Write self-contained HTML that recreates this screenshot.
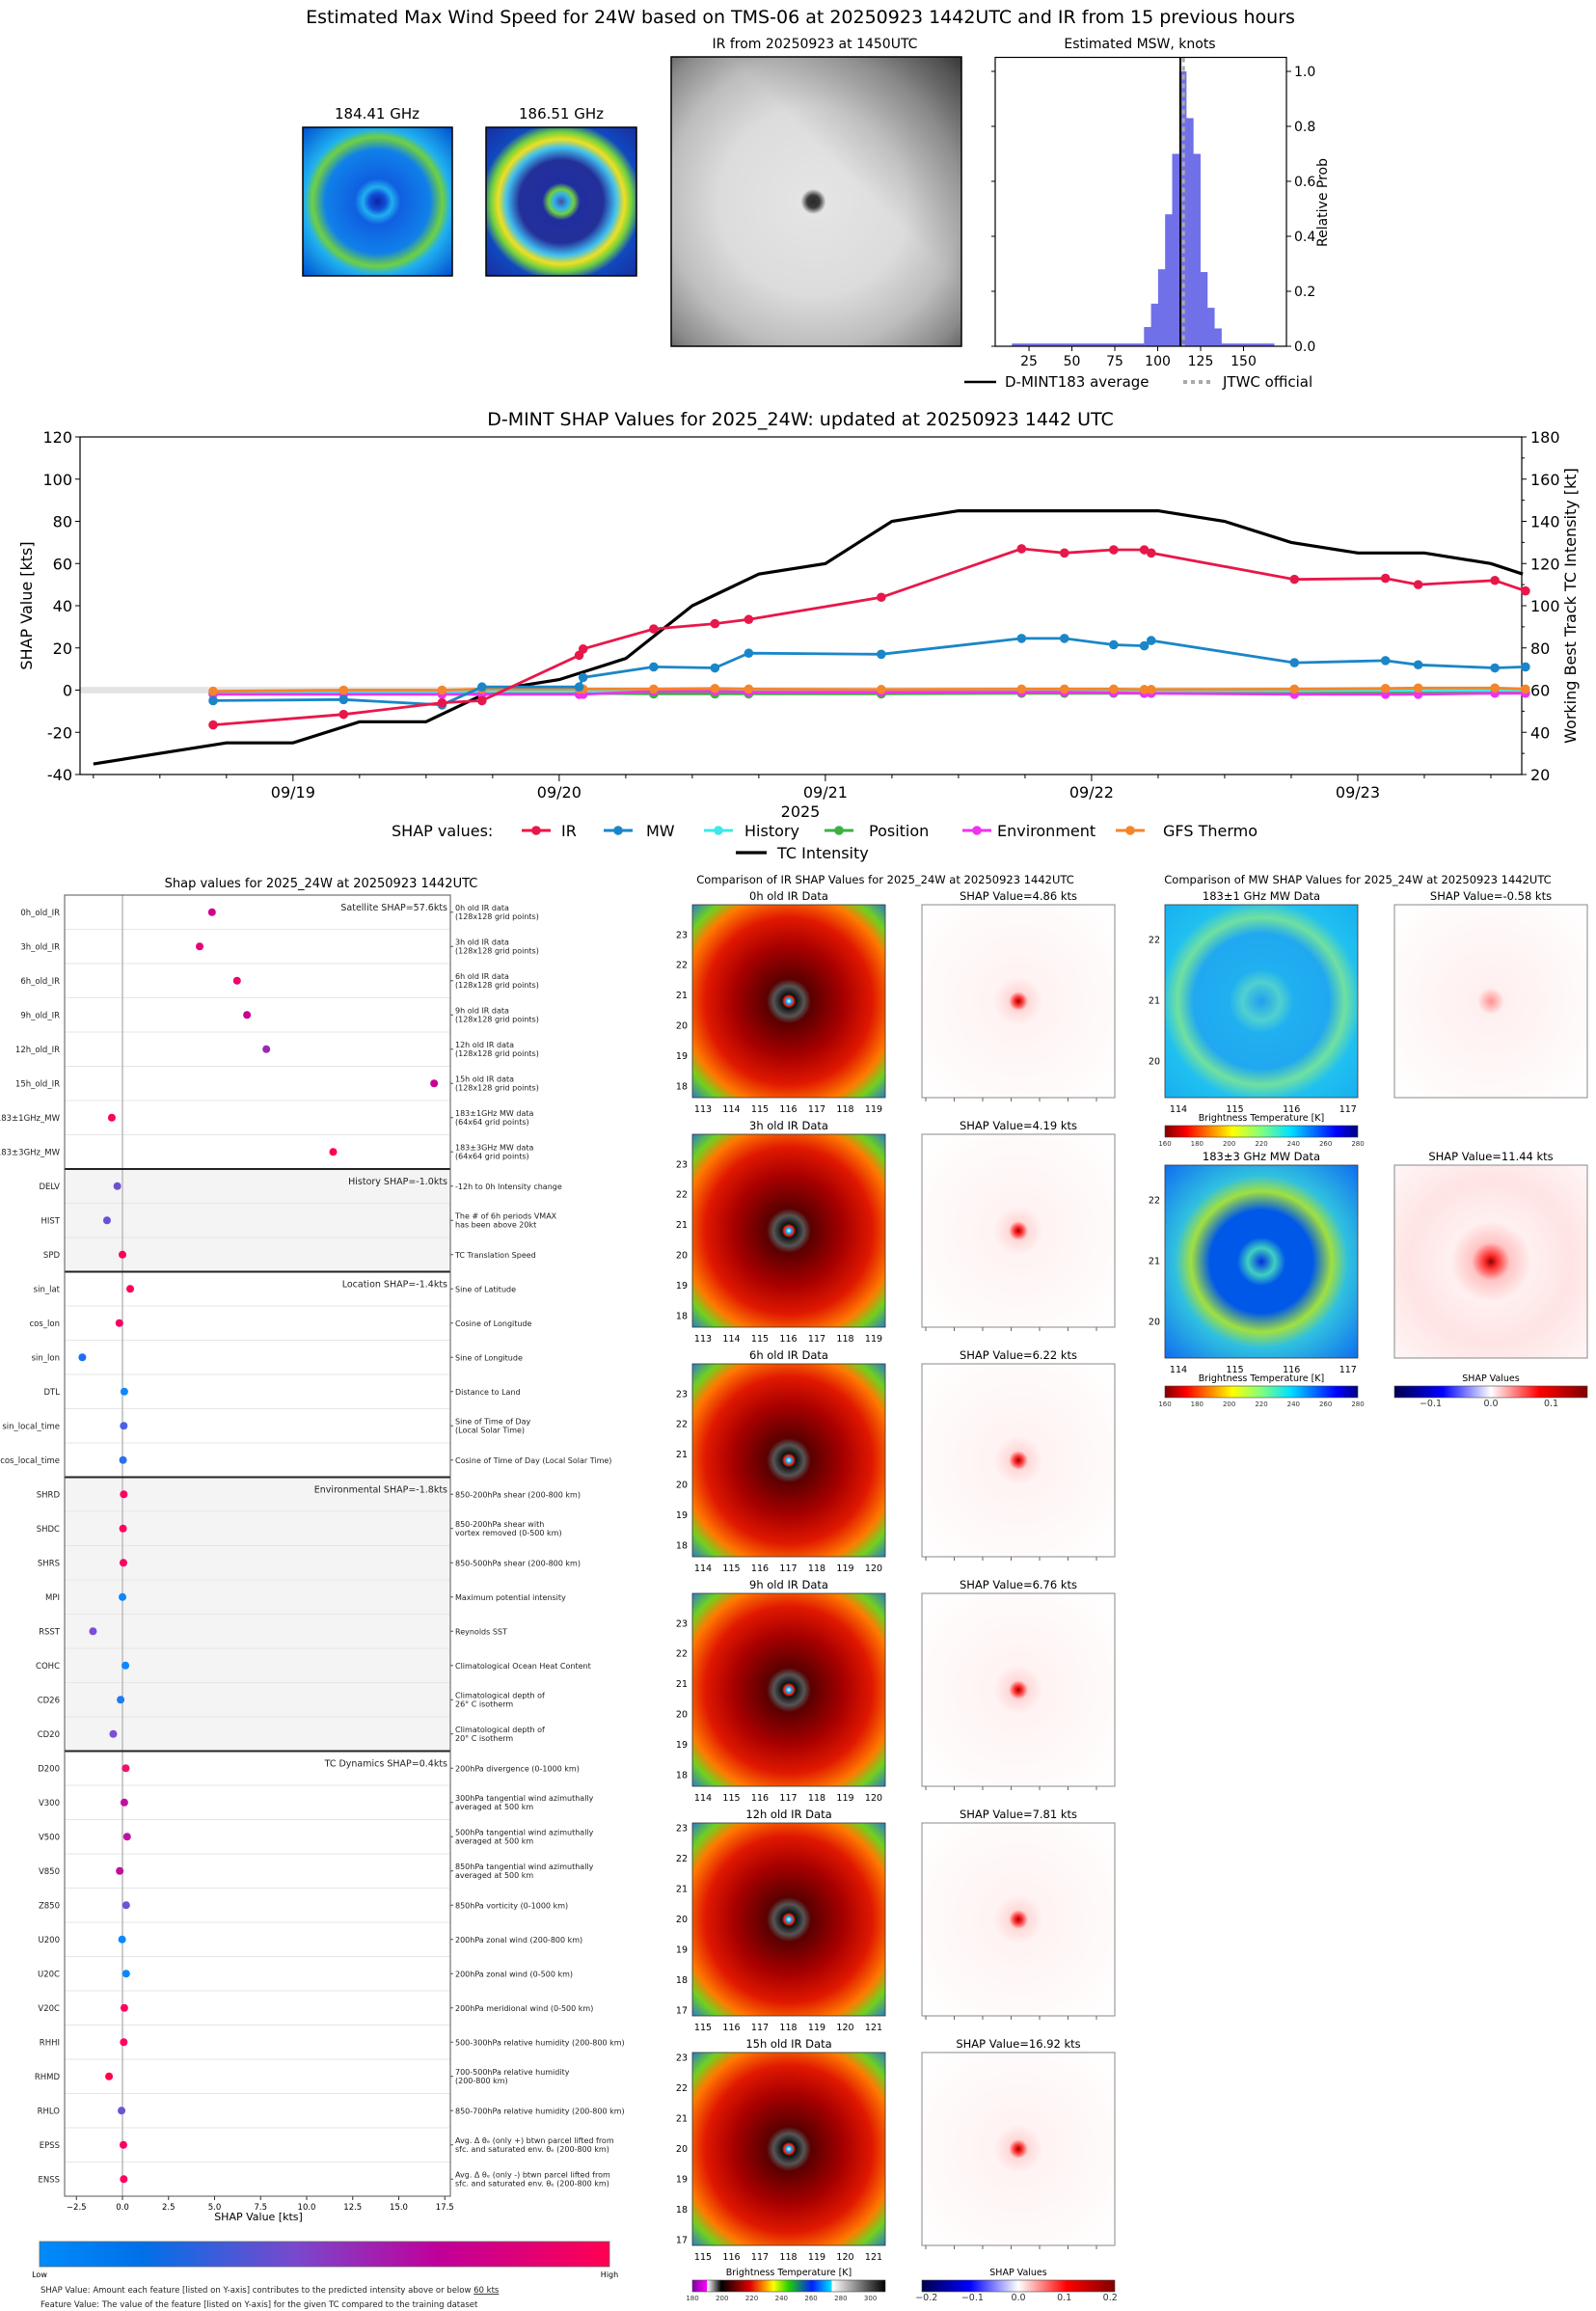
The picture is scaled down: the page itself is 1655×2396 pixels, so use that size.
<!DOCTYPE html>
<html><head><meta charset="utf-8"><title>D-MINT 24W</title>
<style>
html,body{margin:0;padding:0;background:#fff;}
svg{display:block;font-family:"DejaVu Sans","Liberation Sans",sans-serif;}
</style></head>
<body>
<svg id="root" xmlns="http://www.w3.org/2000/svg" width="1655" height="2396" viewBox="0 0 1655 2396">
<defs>
<radialGradient id="gIRtop" cx="0.49" cy="0.5" r="0.72">
<stop offset="0" stop-color="#2a2a2a"/><stop offset="0.03" stop-color="#3a3a3a"/><stop offset="0.06" stop-color="#e4e4e4"/><stop offset="0.45" stop-color="#dcdcdc"/><stop offset="0.7" stop-color="#bdbdbd"/><stop offset="0.9" stop-color="#8a8a8a"/><stop offset="1" stop-color="#606060"/></radialGradient>
<linearGradient id="gIRshade" x1="0" y1="1" x2="1" y2="0">
<stop offset="0" stop-color="#000" stop-opacity="0"/><stop offset="0.6" stop-color="#000" stop-opacity="0"/><stop offset="1" stop-color="#000" stop-opacity="0.45"/></linearGradient>
<radialGradient id="gMW184" cx="0.5" cy="0.5" r="0.7">
<stop offset="0" stop-color="#1020a0"/><stop offset="0.08" stop-color="#1050d8"/><stop offset="0.14" stop-color="#20b0f0"/><stop offset="0.22" stop-color="#1060e0"/><stop offset="0.5" stop-color="#1080ea"/><stop offset="0.62" stop-color="#70d040"/><stop offset="0.7" stop-color="#20b0f0"/><stop offset="1" stop-color="#0050d0"/></radialGradient>
<radialGradient id="gMW186" cx="0.5" cy="0.5" r="0.7">
<stop offset="0" stop-color="#4050a0"/><stop offset="0.07" stop-color="#30b0f0"/><stop offset="0.12" stop-color="#70d040"/><stop offset="0.18" stop-color="#202e9e"/><stop offset="0.4" stop-color="#24309a"/><stop offset="0.52" stop-color="#40c0f0"/><stop offset="0.6" stop-color="#f0e020"/><stop offset="0.67" stop-color="#70d040"/><stop offset="0.76" stop-color="#1048c0"/><stop offset="1" stop-color="#1830a0"/></radialGradient>
<radialGradient id="gIR" cx="0.5" cy="0.5" r="0.72">
<stop offset="0" stop-color="#ffffff"/><stop offset="0.02" stop-color="#00a8ff"/><stop offset="0.035" stop-color="#ff2000"/><stop offset="0.05" stop-color="#101010"/><stop offset="0.11" stop-color="#555555"/><stop offset="0.16" stop-color="#5a0000"/><stop offset="0.4" stop-color="#a80000"/><stop offset="0.6" stop-color="#e01800"/><stop offset="0.76" stop-color="#ff7a00"/><stop offset="0.86" stop-color="#70d020"/><stop offset="1" stop-color="#2070e0"/></radialGradient>
<radialGradient id="gSH" cx="0.5" cy="0.5" r="0.7">
<stop offset="0" stop-color="#a00000"/><stop offset="0.03" stop-color="#ff3030"/><stop offset="0.07" stop-color="#ffd8d8"/><stop offset="0.18" stop-color="#fff3f3"/><stop offset="1" stop-color="#ffffff"/></radialGradient>
<radialGradient id="gSH3" cx="0.5" cy="0.5" r="0.7">
<stop offset="0" stop-color="#900000"/><stop offset="0.05" stop-color="#ff3030"/><stop offset="0.14" stop-color="#ffc4c4"/><stop offset="0.3" stop-color="#fff0f0"/><stop offset="0.6" stop-color="#ffe4e4"/><stop offset="1" stop-color="#fff6f6"/></radialGradient>
<radialGradient id="gSH1" cx="0.5" cy="0.5" r="0.7">
<stop offset="0" stop-color="#ff9090"/><stop offset="0.1" stop-color="#fff0f0"/><stop offset="1" stop-color="#ffffff"/></radialGradient>
<radialGradient id="gMW1" cx="0.5" cy="0.5" r="0.7">
<stop offset="0" stop-color="#20a0f0"/><stop offset="0.14" stop-color="#50d0d0"/><stop offset="0.24" stop-color="#20b0f0"/><stop offset="0.5" stop-color="#20a8f0"/><stop offset="0.62" stop-color="#70e0a0"/><stop offset="0.74" stop-color="#20c0f0"/><stop offset="1" stop-color="#18b0f0"/></radialGradient>
<radialGradient id="gMW3" cx="0.5" cy="0.5" r="0.7">
<stop offset="0" stop-color="#0030e0"/><stop offset="0.1" stop-color="#40d0c0"/><stop offset="0.18" stop-color="#0058e8"/><stop offset="0.38" stop-color="#0058e8"/><stop offset="0.52" stop-color="#a0e040"/><stop offset="0.64" stop-color="#30c0e0"/><stop offset="1" stop-color="#1070f0"/></radialGradient>
<linearGradient id="gJet" x1="0" x2="1" y1="0" y2="0">
<stop offset="0" stop-color="#800000"/><stop offset="0.11" stop-color="#ff0000"/><stop offset="0.35" stop-color="#ffff00"/><stop offset="0.5" stop-color="#80ff80"/><stop offset="0.65" stop-color="#00e0ff"/><stop offset="0.89" stop-color="#0000ff"/><stop offset="1" stop-color="#000080"/></linearGradient>
<linearGradient id="gIRcb" x1="0" x2="1" y1="0" y2="0">
<stop offset="0" stop-color="#8000a0"/><stop offset="0.075" stop-color="#ff00ff"/><stop offset="0.077" stop-color="#ffffff"/><stop offset="0.15" stop-color="#000000"/><stop offset="0.3" stop-color="#e00000"/><stop offset="0.38" stop-color="#ffa000"/><stop offset="0.42" stop-color="#ffff00"/><stop offset="0.5" stop-color="#20d000"/><stop offset="0.62" stop-color="#0020ff"/><stop offset="0.72" stop-color="#00e0ff"/><stop offset="0.725" stop-color="#ffffff"/><stop offset="1" stop-color="#000000"/></linearGradient>
<linearGradient id="gSeis" x1="0" x2="1" y1="0" y2="0">
<stop offset="0" stop-color="#00004c"/><stop offset="0.25" stop-color="#0000ff"/><stop offset="0.5" stop-color="#ffffff"/><stop offset="0.75" stop-color="#ff0000"/><stop offset="1" stop-color="#800000"/></linearGradient>
<linearGradient id="gFeat" x1="0" x2="1" y1="0" y2="0">
<stop offset="0" stop-color="#008bfb"/><stop offset="0.18" stop-color="#0070e8"/><stop offset="0.45" stop-color="#7a48cc"/><stop offset="0.7" stop-color="#c0009a"/><stop offset="1" stop-color="#ff0052"/></linearGradient>
</defs>

<text x="830" y="24" font-size="19" text-anchor="middle">Estimated Max Wind Speed for 24W based on TMS-06 at 20250923 1442UTC and IR from 15 previous hours</text>
<text x="391" y="123" font-size="15" text-anchor="middle">184.41 GHz</text>
<rect x="314" y="132" width="155" height="154" fill="url(#gMW184)" stroke="#000" stroke-width="1.5"/>
<text x="582" y="123" font-size="15" text-anchor="middle">186.51 GHz</text>
<rect x="504" y="132" width="156" height="154" fill="url(#gMW186)" stroke="#000" stroke-width="1.5"/>
<text x="845" y="50" font-size="14" text-anchor="middle">IR from 20250923 at 1450UTC</text>
<rect x="696" y="59" width="301" height="300" fill="url(#gIRtop)" stroke="#000" stroke-width="1.5"/>
<rect x="696" y="59" width="301" height="300" fill="url(#gIRshade)"/>
<text x="1182" y="50" font-size="14" text-anchor="middle">Estimated MSW, knots</text>
<g id="hist"></g>
<text transform="translate(1376,210) rotate(-90)" font-size="14" text-anchor="middle">Relative Prob</text>
<line x1="1000" y1="396" x2="1033" y2="396" stroke="#000" stroke-width="2.5"/>
<text x="1042" y="401" font-size="15">D-MINT183 average</text>
<line x1="1227" y1="396" x2="1256" y2="396" stroke="#aaa" stroke-width="4" stroke-dasharray="4,4"/>
<text x="1268" y="401" font-size="15">JTWC official</text>

<text x="830" y="441" font-size="19" text-anchor="middle">D-MINT SHAP Values for 2025_24W: updated at 20250923 1442 UTC</text>
<g id="main"></g>
<text transform="translate(33,628) rotate(-90)" font-size="16" text-anchor="middle">SHAP Value [kts]</text>
<text transform="translate(1634,628) rotate(-90)" font-size="16" text-anchor="middle">Working Best Track TC Intensity [kt]</text>
<text x="830" y="847" font-size="16" text-anchor="middle">2025</text>

<text x="333" y="920" font-size="13" text-anchor="middle">Shap values for 2025_24W at 20250923 1442UTC</text>
<g id="bees"></g>

<text x="918" y="916" font-size="11.5" text-anchor="middle">Comparison of IR SHAP Values for 2025_24W at 20250923 1442UTC</text>
<text x="1408" y="916" font-size="11.5" text-anchor="middle">Comparison of MW SHAP Values for 2025_24W at 20250923 1442UTC</text>
<g id="imgs"></g>
</svg>

<script>
const NS = 'http://www.w3.org/2000/svg';
function mk(parent, tag, attrs, txt) {
  const el = document.createElementNS(NS, tag);
  for (const k in attrs) el.setAttribute(k, attrs[k]);
  if (txt !== undefined) el.textContent = txt;
  parent.appendChild(el);
  return el;
}

/* ---------- Histogram data ---------- */
const histBinStart = [92, 96.1, 100.2, 104.3, 108.4, 112.5, 116.6, 120.7, 124.8, 128.9, 133];
const histProb = [0.07, 0.155, 0.28, 0.48, 0.70, 1.0, 0.83, 0.70, 0.27, 0.14, 0.065];
const histBinWidth = 4.1;
const histTailLeft = [15, 92, 0.01];
const histTailRight = [137, 168, 0.01];
const histXTicks = [25, 50, 75, 100, 125, 150];
const histYTicks = [0.0, 0.2, 0.4, 0.6, 0.8, 1.0];
const mswMean = 113.2;
const mswJTWC = 115;

/* ---------- Main chart data ---------- */
const dateLabels = ['09/19', '09/20', '09/21', '09/22', '09/23'];
const shapTicks = [-40, -20, 0, 20, 40, 60, 80, 100, 120];
const intensityTicks = [20, 40, 60, 80, 100, 120, 140, 160, 180];
const shapTimes = [-0.30, 0.19, 0.56, 0.71, 1.075, 1.09, 1.355, 1.585, 1.712, 2.21, 2.737, 2.898, 3.083, 3.198, 3.224, 3.762, 4.104, 4.227, 4.515, 4.63];
const irShap = [-16.5, -11.5, -6, -5, 16.5, 19.5, 29, 31.5, 33.5, 44, 67, 65, 66.5, 66.5, 65, 52.5, 53, 50, 52, 47];
const mwShap = [-5, -4.5, -7, 1.5, 1.5, 6, 11, 10.5, 17.5, 17, 24.5, 24.5, 21.5, 21, 23.5, 13, 14, 12, 10.5, 11];
const historyShap = [-1, -1, -0.8, -0.5, -0.5, -0.5, -0.3, -0.3, -0.3, -0.3, -0.3, -0.3, -0.3, -0.3, -0.3, -0.3, -0.2, -0.2, -0.1, -0.1];
const positionShap = [-1.5, -1.5, -1.5, -1.5, -1.5, -1.5, -1.8, -1.8, -1.8, -1.8, -1.5, -1.5, -1.5, -1.5, -1.5, -1.2, -1.2, -1.2, -1, -1];
const environmentShap = [-2, -2, -2, -2, -2, -2, -0.5, -0.5, -1, -1, -1, -1, -1.2, -1.5, -1.5, -2, -2, -2, -1.5, -1.5];
const gfsThermoShap = [-0.5, 0, 0, 0.5, 0.5, 0.5, 0.5, 0.8, 0.5, 0.3, 0.5, 0.5, 0.5, 0.3, 0.3, 0.5, 0.8, 1, 1, 0.5];
const intensityTimes = [-0.75, -0.5, -0.25, 0, 0.25, 0.5, 0.75, 1, 1.25, 1.5, 1.75, 2, 2.25, 2.5, 2.75, 3, 3.25, 3.5, 3.75, 4, 4.25, 4.5, 4.62];
const intensityKt = [25, 30, 35, 35, 45, 45, 60, 65, 75, 100, 115, 120, 140, 145, 145, 145, 145, 140, 130, 125, 125, 120, 115];

/* ---------- Feature panel data ---------- */
const featNames = ['0h_old_IR','3h_old_IR','6h_old_IR','9h_old_IR','12h_old_IR','15h_old_IR','183\u00b11GHz_MW','183\u00b13GHz_MW',
 'DELV','HIST','SPD','sin_lat','cos_lon','sin_lon','DTL','sin_local_time','cos_local_time',
 'SHRD','SHDC','SHRS','MPI','RSST','COHC','CD26','CD20',
 'D200','V300','V500','V850','Z850','U200','U20C','V20C','RHHI','RHMD','RHLO','EPSS','ENSS'];
const featShap = [4.86,4.19,6.22,6.76,7.81,16.92,-0.58,11.44,
 -0.28,-0.84,0.0,0.42,-0.17,-2.18,0.1,0.07,0.03,
 0.07,0.03,0.05,0.0,-1.6,0.16,-0.1,-0.5,
 0.18,0.1,0.25,-0.15,0.2,-0.02,0.2,0.1,0.07,-0.73,-0.05,0.05,0.07];
const featColor = ['#d4008a','#e6007a','#f0006a','#c8008f','#9a2ab0','#cc0090','#ff0055','#ff0050',
 '#7050d0','#6a4fd8','#ff0055','#ff0055','#f50060','#1e6ff0','#0a88ff','#4a60e8','#2a70f0',
 '#ff0060','#ff0060','#ff0060','#0a88ff','#7a4ed8','#0a88ff','#1a7cf0','#7a4ed8',
 '#f0106a','#c010a0','#c010a0','#c0109a','#6a55d8','#0a88ff','#0a88ff','#ff0060','#ff0060','#ff0050','#6a55d8','#ff0060','#ff0060'];
const featDesc = [['0h old IR data','(128x128 grid points)'],['3h old IR data','(128x128 grid points)'],['6h old IR data','(128x128 grid points)'],['9h old IR data','(128x128 grid points)'],['12h old IR data','(128x128 grid points)'],['15h old IR data','(128x128 grid points)'],['183\u00b11GHz MW data','(64x64 grid points)'],['183\u00b13GHz MW data','(64x64 grid points)'],
 ['-12h to 0h Intensity change'],['The # of 6h periods VMAX','has been above 20kt'],['TC Translation Speed'],
 ['Sine of Latitude'],['Cosine of Longitude'],['Sine of Longitude'],['Distance to Land'],['Sine of Time of Day','(Local Solar Time)'],['Cosine of Time of Day (Local Solar Time)'],
 ['850-200hPa shear (200-800 km)'],['850-200hPa shear with','vortex removed (0-500 km)'],['850-500hPa shear (200-800 km)'],['Maximum potential intensity'],['Reynolds SST'],['Climatological Ocean Heat Content'],['Climatological depth of','26\u00b0 C isotherm'],['Climatological depth of','20\u00b0 C isotherm'],
 ['200hPa divergence (0-1000 km)'],['300hPa tangential wind azimuthally','averaged at 500 km'],['500hPa tangential wind azimuthally','averaged at 500 km'],['850hPa tangential wind azimuthally','averaged at 500 km'],['850hPa vorticity (0-1000 km)'],['200hPa zonal wind (200-800 km)'],['200hPa zonal wind (0-500 km)'],['200hPa meridional wind (0-500 km)'],['500-300hPa relative humidity (200-800 km)'],['700-500hPa relative humidity','(200-800 km)'],['850-700hPa relative humidity (200-800 km)'],['Avg. \u0394 \u03b8\u2091 (only +) btwn parcel lifted from','sfc. and saturated env. \u03b8\u2091 (200-800 km)'],['Avg. \u0394 \u03b8\u2091 (only -) btwn parcel lifted from','sfc. and saturated env. \u03b8\u2091 (200-800 km)']];
const sectionStarts = [0, 8, 11, 17, 25];
const sectionEnds = [8, 11, 17, 25, 38];
const sectionLabels = ['Satellite SHAP=57.6kts','History SHAP=-1.0kts','Location SHAP=-1.4kts','Environmental SHAP=-1.8kts','TC Dynamics SHAP=0.4kts'];
const featXTicks = [-2.5, 0.0, 2.5, 5.0, 7.5, 10.0, 12.5, 15.0, 17.5];

/* ---------- Image panel data ---------- */
const irTitles = ['0h old IR Data','3h old IR Data','6h old IR Data','9h old IR Data','12h old IR Data','15h old IR Data'];
const irShapTitles = ['SHAP Value=4.86 kts','SHAP Value=4.19 kts','SHAP Value=6.22 kts','SHAP Value=6.76 kts','SHAP Value=7.81 kts','SHAP Value=16.92 kts'];
const irLonLabels = [[113,114,115,116,117,118,119],[113,114,115,116,117,118,119],[114,115,116,117,118,119,120],[114,115,116,117,118,119,120],[115,116,117,118,119,120,121],[115,116,117,118,119,120,121]];
const irLatLabels = [[23,22,21,20,19,18],[23,22,21,20,19,18],[23,22,21,20,19,18],[23,22,21,20,19,18],[23,22,21,20,19,18,17],[23,22,21,20,19,18,17]];
const mwLonLabels = [114, 115, 116, 117];
const mwLatLabels = [22, 21, 20];
const tbTicks = [160, 180, 200, 220, 240, 260, 280];
const irTbTicks = [180, 200, 220, 240, 260, 280, 300];
const shapCbTicks = [-0.2, -0.1, 0.0, 0.1, 0.2];
const mwShapCbTicks = [-0.1, 0.0, 0.1];

/* ================= Histogram ================= */
(function () {
  const g = document.getElementById('hist');
  const L = 1032, R = 1334, T = 59.5, B = 359;
  const hx = v => L + (v - 5.3) / (175 - 5.3) * (R - L);
  const hy = p => B - p * 285;
  let el;
  el = mk(g, 'rect', {x: L, y: T, width: R - L, height: B - T, fill: '#fff'});
  
  
  el = mk(g, 'rect', {x: hx(histTailLeft[0]), y: hy(histTailLeft[2]), width: hx(histTailLeft[1]) - hx(histTailLeft[0]), height: histTailLeft[2] * 285, fill: '#7070e8'});
  
  
  el = mk(g, 'rect', {x: hx(histTailRight[0]), y: hy(histTailRight[2]), width: hx(histTailRight[1]) - hx(histTailRight[0]), height: histTailRight[2] * 285, fill: '#7070e8'});
  
  
  histBinStart.forEach((b, i) => {
    const bar = mk(g, 'rect', {x: hx(b), y: hy(histProb[i]), width: hx(b + histBinWidth) - hx(b) + 0.3, height: histProb[i] * 285, fill: '#7070e8'});
    
    
  });
  el = mk(g, 'line', {x1: hx(mswJTWC), x2: hx(mswJTWC), y1: T, y2: B, stroke: '#aaa', 'stroke-width': 3, 'stroke-dasharray': '5,4'});
  
  
  el = mk(g, 'line', {x1: hx(mswMean), x2: hx(mswMean), y1: T, y2: B, stroke: '#000', 'stroke-width': 2});
  
  
  el = mk(g, 'rect', {x: L, y: T, width: R - L, height: B - T, fill: 'none', stroke: '#000', 'stroke-width': 1.2});
  
  
  histXTicks.forEach(t => {
    const tk = mk(g, 'line', {x1: hx(t), x2: hx(t), y1: B, y2: B + 5, stroke: '#000'});
    
    
    const lb = mk(g, 'text', {x: hx(t), y: B + 20, 'font-size': 14, 'text-anchor': 'middle'}, String(t));
    
    
  });
  histYTicks.forEach(t => {
    const tk = mk(g, 'line', {x1: R, x2: R + 5, y1: hy(t), y2: hy(t), stroke: '#000'});
    
    
    const tk2 = mk(g, 'line', {x1: L - 4, x2: L, y1: hy(t), y2: hy(t), stroke: '#000'});
    
    
    const lb = mk(g, 'text', {x: R + 8, y: hy(t) + 5, 'font-size': 14}, t.toFixed(1));
    
    
  });
})();

/* ================= Main time series ================= */
(function () {
  const g = document.getElementById('main');
  const X0 = 83, X1 = 1578, Y0 = 453, Y1 = 803;
  const xs = d => X0 + (d + 0.80) / (4.616 + 0.80) * (X1 - X0);
  const yl = v => Y0 + (120 - v) / 160 * (Y1 - Y0);
  const yr = k => Y0 + (180 - k) / 160 * (Y1 - Y0);
  let el;
  el = mk(g, 'rect', {x: X0, y: yl(1.5), width: X1 - X0, height: yl(-1.5) - yl(1.5), fill: '#e3e3e3'});
  
  
  el = mk(g, 'rect', {x: X0, y: Y0, width: X1 - X0, height: Y1 - Y0, fill: 'none', stroke: '#000', 'stroke-width': 1.2});
  
  
  shapTicks.forEach(t => {
    const tk = mk(g, 'line', {x1: X0 - 5, x2: X0, y1: yl(t), y2: yl(t), stroke: '#000'});
    
    
    const lb = mk(g, 'text', {x: X0 - 8, y: yl(t) + 6, 'font-size': 16, 'text-anchor': 'end'}, String(t));
    
    
  });
  intensityTicks.forEach((t, i) => {
    const tk = mk(g, 'line', {x1: X1, x2: X1 + 5, y1: yr(t), y2: yr(t), stroke: '#000'});
    
    
    if (i < intensityTicks.length - 1) {
      const mt = mk(g, 'line', {x1: X1, x2: X1 + 3, y1: yr(t + 10), y2: yr(t + 10), stroke: '#000'});
      
      
    }
    const lb = mk(g, 'text', {x: X1 + 9, y: yr(t) + 6, 'font-size': 16}, String(t));
    
    
  });
  for (let q = -3; q <= 18; q++) {
    const d = q * 0.25;
    const major = q % 4 === 0;
    const tk = mk(g, 'line', {x1: xs(d), x2: xs(d), y1: Y1, y2: Y1 + (major ? 7 : 4), stroke: '#000'});
    
    
  }
  dateLabels.forEach((lab, i) => {
    const lb = mk(g, 'text', {x: xs(i), y: Y1 + 24, 'font-size': 16, 'text-anchor': 'middle'}, lab);
    
    
  });
  const ip = intensityTimes.map((t, i) => xs(t).toFixed(1) + ',' + yr(intensityKt[i]).toFixed(1)).join(' ');
  el = mk(g, 'polyline', {points: ip, fill: 'none', stroke: '#000', 'stroke-width': 3.2});
  
  
  const series = [
    ['position', positionShap, '#3cb043'],
    ['history', historyShap, '#40e8e8'],
    ['environment', environmentShap, '#ee33ee'],
    ['gfs-thermo', gfsThermoShap, '#f4852a'],
    ['mw', mwShap, '#1a86c8'],
    ['ir', irShap, '#e8174a']
  ];
  series.forEach(s => {
    const pts = shapTimes.map((t, i) => xs(t).toFixed(1) + ',' + yl(s[1][i]).toFixed(1)).join(' ');
    const ln = mk(g, 'polyline', {points: pts, fill: 'none', stroke: s[2], 'stroke-width': 2.8});
    
    
    shapTimes.forEach((t, i) => {
      const c = mk(g, 'circle', {cx: xs(t), cy: yl(s[1][i]), r: 4.8, fill: s[2]});
      
      
    });
  });
  el = mk(g, 'text', {x: 406, y: 867, 'font-size': 16}, 'SHAP values:');
  
  
  const leg = [['IR', '#e8174a', 556, 582], ['MW', '#1a86c8', 641, 670], ['History', '#40e8e8', 745, 772], ['Position', '#3cb043', 870, 901], ['Environment', '#ee33ee', 1013, 1034], ['GFS Thermo', '#f4852a', 1172, 1206]];
  leg.forEach(e => {
    const l = mk(g, 'line', {x1: e[2] - 15, x2: e[2] + 15, y1: 861, y2: 861, stroke: e[1], 'stroke-width': 3});
    
    
    const c = mk(g, 'circle', {cx: e[2], cy: 861, r: 4.8, fill: e[1]});
    
    
    const t = mk(g, 'text', {x: e[3], y: 867, 'font-size': 16}, e[0]);
    
    
  });
  el = mk(g, 'line', {x1: 763, x2: 795, y1: 884, y2: 884, stroke: '#000', 'stroke-width': 3.2});
  
  
  el = mk(g, 'text', {x: 806, y: 890, 'font-size': 16}, 'TC Intensity');
  
  
})();

/* ================= Feature SHAP panel ================= */
(function () {
  const g = document.getElementById('bees');
  const L = 67, R = 467, T = 928, B = 2277;
  const rowH = (B - T) / featNames.length;
  const fx = v => 127 + v * 19.1;
  const fy = i => T + rowH * (i + 0.5);
  let el;
  sectionStarts.forEach((s, k) => {
    const bg = mk(g, 'rect', {x: L, y: T + s * rowH, width: R - L, height: (sectionEnds[k] - s) * rowH, fill: (k === 1 || k === 3) ? '#f4f4f4' : '#ffffff'});
    
    
  });
  for (let i = 1; i < featNames.length; i++) {
    const gl = mk(g, 'line', {x1: L, x2: R, y1: T + i * rowH, y2: T + i * rowH, stroke: '#e6e6e6', 'stroke-width': 1});
    
    
  }
  el = mk(g, 'line', {x1: fx(0), x2: fx(0), y1: T, y2: B, stroke: '#bbb', 'stroke-width': 1.5});
  
  
  sectionStarts.forEach((s, k) => {
    if (k > 0) {
      const sl = mk(g, 'line', {x1: L, x2: R, y1: T + s * rowH, y2: T + s * rowH, stroke: '#222', 'stroke-width': 2});
      
      
    }
    const st = mk(g, 'text', {x: R - 3, y: T + s * rowH + 16, 'font-size': 9.5, 'text-anchor': 'end', fill: '#222'}, sectionLabels[k]);
    
    
  });
  el = mk(g, 'rect', {x: L, y: T, width: R - L, height: B - T, fill: 'none', stroke: '#555', 'stroke-width': 1});
  
  
  featNames.forEach((n, i) => {
    const lb = mk(g, 'text', {x: 62, y: fy(i) + 3, 'font-size': 8.5, 'text-anchor': 'end', fill: '#222'}, n);
    
    
    const tk = mk(g, 'line', {x1: R, x2: R + 3, y1: fy(i), y2: fy(i), stroke: '#555'});
    
    
    const d = featDesc[i];
    d.forEach((line, j) => {
      const yy = d.length === 1 ? fy(i) + 3 : fy(i) - 2 + j * 9;
      const ds = mk(g, 'text', {x: 472, y: yy, 'font-size': 8, fill: '#222'}, line);
      
      
    });
    const c = mk(g, 'circle', {cx: fx(featShap[i]), cy: fy(i), r: 4, fill: featColor[i]});
    
    
  });
  featXTicks.forEach(t => {
    const tk = mk(g, 'line', {x1: fx(t), x2: fx(t), y1: B, y2: B + 4, stroke: '#333'});
    
    
    const lb = mk(g, 'text', {x: fx(t), y: B + 14, 'font-size': 8.5, 'text-anchor': 'middle'}, (t < 0 ? '\u2212' : '') + Math.abs(t).toFixed(1));
    
    
  });
  el = mk(g, 'text', {x: 268, y: 2302, 'font-size': 11, 'text-anchor': 'middle'}, 'SHAP Value [kts]');
  
  
  el = mk(g, 'rect', {x: 41, y: 2324, width: 591, height: 26, fill: 'url(#gFeat)', stroke: '#666', 'stroke-width': 0.8});
  
  
  el = mk(g, 'text', {x: 41, y: 2361, 'font-size': 8, 'text-anchor': 'middle'}, 'Low');
  
  
  el = mk(g, 'text', {x: 632, y: 2361, 'font-size': 8, 'text-anchor': 'middle'}, 'High');
  
  
  el = mk(g, 'text', {x: 42, y: 2377, 'font-size': 8.5, fill: '#222'}, 'SHAP Value: Amount each feature [listed on Y-axis] contributes to the predicted intensity above or below ');
  
  
  const tsp = mk(el, 'tspan', {'text-decoration': 'underline'}, '60 kts');
  
  
  el = mk(g, 'text', {x: 42, y: 2392, 'font-size': 8.5, fill: '#222'}, 'Feature Value: The value of the feature [listed on Y-axis] for the given TC compared to the training dataset');
  
  
})();

/* ================= Image panels ================= */
(function () {
  const g = document.getElementById('imgs');
  const rowTop = i => 938 + i * 238;
  function colorbar(x, y, w, fill, ticks, lo, hi, title, fs, name) {
    const t = mk(g, 'text', {x: x + w / 2, y: y - 5, 'font-size': 9.5, 'text-anchor': 'middle'}, title);
    
    
    const r = mk(g, 'rect', {x: x, y: y, width: w, height: 12, fill: fill, stroke: '#444', 'stroke-width': 0.6});
    
    
    ticks.forEach(v => {
      const px = x + (v - lo) / (hi - lo) * w;
      const l = mk(g, 'text', {x: px, y: y + 21, 'font-size': fs, 'text-anchor': 'middle', fill: '#333'}, (v < 0 ? '\u2212' : '') + (Number.isInteger(v) && Math.abs(v) > 1 ? String(Math.abs(v)) : Math.abs(v).toFixed(1)));
      
      
    });
  }
  irTitles.forEach((title, i) => {
    const y = rowTop(i);
    const t = mk(g, 'text', {x: 818, y: y - 5, 'font-size': 11.5, 'text-anchor': 'middle'}, title);
    
    
    const im = mk(g, 'rect', {x: 718, y: y, width: 200, height: 200, fill: 'url(#gIR)', stroke: '#333', 'stroke-width': 0.8});
    
    
    const lons = irLonLabels[i];
    lons.forEach((v, k) => {
      const px = 718 + 200 * (0.055 + k * (0.885 / (lons.length - 1)));
      const l = mk(g, 'text', {x: px, y: y + 215, 'font-size': 9.5, 'text-anchor': 'middle'}, String(v));
      
      
    });
    const lats = irLatLabels[i];
    const f0 = lats.length === 6 ? 0.154 : 0.025, f1 = lats.length === 6 ? 0.94 : 0.97;
    lats.forEach((v, k) => {
      const py = y + 200 * (f0 + k * (f1 - f0) / (lats.length - 1));
      const l = mk(g, 'text', {x: 713, y: py + 3.5, 'font-size': 9.5, 'text-anchor': 'end'}, String(v));
      
      
    });
    const st = mk(g, 'text', {x: 1056, y: y - 5, 'font-size': 11.5, 'text-anchor': 'middle'}, irShapTitles[i]);
    
    
    const sm = mk(g, 'rect', {x: 956, y: y, width: 200, height: 200, fill: 'url(#gSH)', stroke: '#888', 'stroke-width': 1});
    
    
    for (let k = 0; k < 7; k++) {
      const tk = mk(g, 'line', {x1: 960 + k * 29.5, x2: 960 + k * 29.5, y1: y + 200, y2: y + 204, stroke: '#666'});
      
      
    }
  });
  colorbar(718, 2364, 200, 'url(#gIRcb)', irTbTicks, 180, 310, 'Brightness Temperature [K]', 7, 'ir-temperature-colorbar');
  colorbar(956, 2364, 200, 'url(#gSeis)', shapCbTicks, -0.21, 0.21, 'SHAP Values', 9.5, 'ir-shap-colorbar');

  const mwRows = [['183\u00b11 GHz MW Data', 'SHAP Value=-0.58 kts', 'url(#gMW1)', 'url(#gSH1)', 938], ['183\u00b13 GHz MW Data', 'SHAP Value=11.44 kts', 'url(#gMW3)', 'url(#gSH3)', 1208]];
  mwRows.forEach(r => {
    const y = r[4];
    const t = mk(g, 'text', {x: 1308, y: y - 5, 'font-size': 11.5, 'text-anchor': 'middle'}, r[0]);
    
    
    const im = mk(g, 'rect', {x: 1208, y: y, width: 200, height: 200, fill: r[2], stroke: '#333', 'stroke-width': 0.8});
    
    
    mwLonLabels.forEach((v, k) => {
      const l = mk(g, 'text', {x: 1208 + 200 * (0.07 + k * 0.293), y: y + 215, 'font-size': 9.5, 'text-anchor': 'middle'}, String(v));
      
      
    });
    mwLatLabels.forEach((v, k) => {
      const l = mk(g, 'text', {x: 1203, y: y + 200 * (0.18 + k * 0.315) + 3.5, 'font-size': 9.5, 'text-anchor': 'end'}, String(v));
      
      
    });
    const st = mk(g, 'text', {x: 1546, y: y - 5, 'font-size': 11.5, 'text-anchor': 'middle'}, r[1]);
    
    
    const sm = mk(g, 'rect', {x: 1446, y: y, width: 200, height: 200, fill: r[3], stroke: '#888', 'stroke-width': 1});
    
    
    colorbar(1208, y + 229, 200, 'url(#gJet)', tbTicks, 160, 280, 'Brightness Temperature [K]', 7, 'mw-temperature-colorbar');
  });
  colorbar(1446, 1437, 200, 'url(#gSeis)', mwShapCbTicks, -0.16, 0.16, 'SHAP Values', 9.5, 'mw-shap-colorbar');
})();
</script>
</body></html>
